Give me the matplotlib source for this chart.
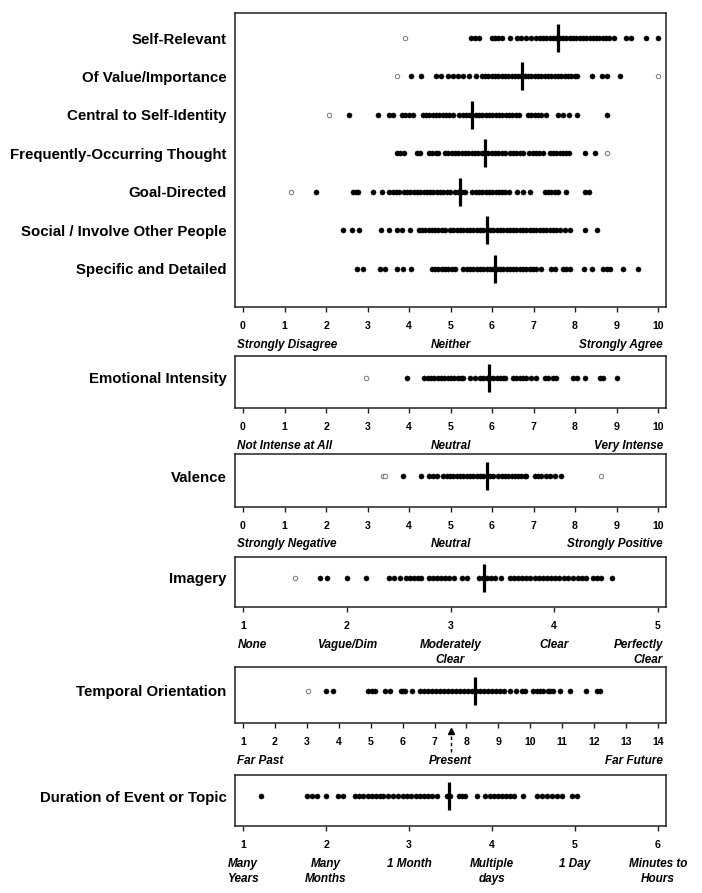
import matplotlib
matplotlib.use('Agg')
import matplotlib.pyplot as plt

plt.rcParams['font.family'] = ['Liberation Sans', 'DejaVu Sans']

# ---- data ----
# top panel: agreement ratings 0-10
top_labels = ["Self-Relevant", "Of Value/Importance", "Central to Self-Identity",
              "Frequently-Occurring Thought", "Goal-Directed",
              "Social / Involve Other People", "Specific and Detailed"]

self_rel = [5.50, 5.59, 5.68, 5.99, 6.07, 6.15, 6.23, 6.43, 6.61, 6.71, 6.83, 6.94, 7.07, 7.15,
            7.23, 7.31, 7.39, 7.47, 7.55, 7.63, 7.71, 7.79, 7.87, 7.95, 8.03, 8.11, 8.19, 8.27,
            8.35, 8.43, 8.51, 8.59, 8.67, 8.75, 8.81, 8.93, 9.22, 9.36, 9.70, 10.00]
value = [4.05, 4.30, 4.65, 4.77, 4.95, 5.07, 5.18, 5.31, 5.45, 5.61, 5.75, 5.83, 5.91, 5.99,
         6.07, 6.15, 6.23, 6.31, 6.39, 6.47, 6.55, 6.63, 6.71, 6.79, 6.87, 6.95, 7.03, 7.11,
         7.19, 7.27, 7.35, 7.43, 7.51, 7.59, 7.67, 7.75, 7.83, 7.91, 7.99, 8.04, 8.40, 8.66,
         8.76, 9.08]
central = [2.55, 3.25, 3.53, 3.62, 3.83, 3.91, 4.00, 4.10, 4.33, 4.41, 4.49, 4.57, 4.65, 4.73,
           4.81, 4.89, 4.97, 5.05, 5.21, 5.29, 5.37, 5.45, 5.53, 5.61, 5.69, 5.77, 5.85, 5.93,
           6.01, 6.09, 6.17, 6.25, 6.33, 6.41, 6.49, 6.57, 6.65, 6.87, 6.95, 7.03, 7.11, 7.19,
           7.29, 7.60, 7.70, 7.86, 8.06, 8.76]
frequent = [3.70, 3.79, 3.88, 4.19, 4.27, 4.48, 4.56, 4.64, 4.71, 4.87, 4.95, 5.03, 5.11, 5.19,
            5.27, 5.35, 5.43, 5.51, 5.59, 5.67, 5.75, 5.83, 5.91, 5.99, 6.07, 6.15, 6.23, 6.31,
            6.43, 6.51, 6.59, 6.67, 6.75, 6.90, 6.98, 7.06, 7.14, 7.23, 7.39, 7.47, 7.55, 7.63,
            7.71, 7.79, 7.86, 8.24, 8.48]
goal = [1.75, 2.66, 2.72, 2.78, 3.14, 3.36, 3.53, 3.61, 3.69, 3.77, 3.87, 3.95, 4.03, 4.11,
        4.19, 4.27, 4.35, 4.43, 4.51, 4.59, 4.67, 4.75, 4.83, 4.91, 4.99, 5.11, 5.19, 5.27,
        5.35, 5.53, 5.61, 5.69, 5.77, 5.85, 5.93, 6.01, 6.09, 6.17, 6.25, 6.31, 6.42, 6.61,
        6.74, 6.91, 7.27, 7.35, 7.43, 7.51, 7.59, 7.78, 8.24, 8.34]
social = [2.41, 2.62, 2.80, 3.33, 3.52, 3.70, 3.83, 4.03, 4.23, 4.31, 4.39, 4.47, 4.55, 4.63,
          4.71, 4.79, 4.87, 4.99, 5.07, 5.15, 5.23, 5.31, 5.39, 5.47, 5.55, 5.63, 5.71, 5.79,
          5.87, 5.95, 6.03, 6.11, 6.19, 6.27, 6.35, 6.43, 6.51, 6.59, 6.67, 6.75, 6.83, 6.91,
          6.99, 7.07, 7.15, 7.23, 7.31, 7.39, 7.47, 7.55, 7.63, 7.75, 7.89, 8.25, 8.52]
specific = [2.74, 2.89, 3.29, 3.42, 3.70, 3.85, 4.05, 4.55, 4.63, 4.71, 4.79, 4.87, 4.95, 5.03,
            5.11, 5.31, 5.39, 5.47, 5.55, 5.63, 5.71, 5.79, 5.87, 5.95, 6.03, 6.11, 6.19, 6.27,
            6.35, 6.43, 6.51, 6.59, 6.67, 6.75, 6.83, 6.91, 6.99, 7.07, 7.19, 7.43, 7.51, 7.71,
            7.79, 7.87, 8.21, 8.42, 8.68, 8.76, 8.84, 9.16, 9.52]
top_points = [self_rel, value, central, frequent, goal, social, specific]
top_outliers = [[3.90], [3.72, 10.00], [2.08], [8.76], [1.16], [], []]
top_means = [7.58, 6.72, 5.53, 5.82, 5.22, 5.89, 6.08]

emotional = [3.96, 4.37, 4.45, 4.53, 4.61, 4.69, 4.77, 4.85, 4.93, 5.01, 5.09, 5.17, 5.25, 5.31,
             5.47, 5.59, 5.71, 5.79, 5.87, 5.95, 6.03, 6.11, 6.19, 6.27, 6.31, 6.51, 6.59, 6.67,
             6.75, 6.83, 6.95, 7.07, 7.27, 7.35, 7.47, 7.55, 7.94, 8.04, 8.24, 8.60, 8.68, 9.00]
emotional_out = [2.97]
emotional_mean = 5.92

valence = [3.85, 4.28, 4.49, 4.58, 4.68, 4.83, 4.91, 4.99, 5.07, 5.15, 5.23, 5.31, 5.39, 5.47,
           5.55, 5.63, 5.71, 5.79, 5.87, 5.95, 6.03, 6.15, 6.23, 6.31, 6.39, 6.47, 6.55, 6.63,
           6.71, 6.79, 6.83, 7.03, 7.11, 7.19, 7.29, 7.39, 7.51, 7.67]
valence_out = [3.37, 3.42, 8.62]
valence_mean = 5.89

imagery = [1.74, 1.81, 2.00, 2.19, 2.41, 2.46, 2.51, 2.57, 2.61, 2.65, 2.69, 2.72, 2.79, 2.83,
           2.87, 2.91, 2.95, 2.99, 3.03, 3.11, 3.16, 3.27, 3.31, 3.35, 3.39, 3.43, 3.49, 3.57,
           3.61, 3.65, 3.69, 3.73, 3.77, 3.81, 3.85, 3.89, 3.93, 3.97, 4.01, 4.05, 4.09, 4.13,
           4.18, 4.23, 4.27, 4.31, 4.37, 4.41, 4.45, 4.56]
imagery_out = [1.50]
imagery_mean = 3.32

temporal = [3.60, 3.81, 4.92, 5.04, 5.15, 5.44, 5.61, 5.96, 6.02, 6.08, 6.29, 6.55, 6.68, 6.80,
            6.93, 7.05, 7.18, 7.30, 7.43, 7.55, 7.68, 7.80, 7.93, 8.05, 8.18, 8.30, 8.43, 8.55,
            8.68, 8.80, 8.93, 9.05, 9.18, 9.36, 9.54, 9.73, 9.83, 10.09, 10.20, 10.30, 10.40,
            10.55, 10.63, 10.72, 10.93, 11.24, 11.74, 12.10, 12.18]
temporal_out = [3.04]
temporal_mean = 8.27
present_x = 7.5

duration = [1.22, 1.77, 1.83, 1.89, 2.00, 2.14, 2.21, 2.35, 2.40, 2.45, 2.50, 2.55, 2.60, 2.65,
            2.69, 2.75, 2.81, 2.87, 2.93, 2.98, 3.03, 3.08, 3.13, 3.18, 3.23, 3.28, 3.34, 3.46,
            3.50, 3.60, 3.64, 3.68, 3.82, 3.92, 3.98, 4.02, 4.07, 4.12, 4.17, 4.22, 4.26, 4.37,
            4.54, 4.60, 4.66, 4.72, 4.78, 4.84, 4.96, 5.03]
duration_out = []
duration_mean = 3.48

# scale descriptors
agree_desc = ["Strongly Disagree", "Neither", "Strongly Agree"]
intensity_desc = ["Not Intense at All", "Neutral", "Very Intense"]
valence_desc = ["Strongly Negative", "Neutral", "Strongly Positive"]
imagery_desc = ["None", "Vague/Dim", "Moderately\nClear", "Clear", "Perfectly\nClear"]
temporal_desc = ["Far Past", "Present", "Far Future"]
duration_desc = ["Many\nYears", "Many\nMonths", "1 Month", "Multiple\ndays", "1 Day",
                 "Minutes to\nHours"]

# ---- layout (pixels) ----
W, H = 702, 893
BOX_L, BOX_R = 235, 666
fig = plt.figure(figsize=(W / 100, H / 100), dpi=100)


def panel(top, bottom, lo, hi):
    ax = fig.add_axes([BOX_L / W, 1 - bottom / H, (BOX_R - BOX_L) / W, (bottom - top) / H])
    pad = (hi - lo) * 8 / 415
    ax.set_xlim(lo - pad, hi + pad)
    ticks = list(range(lo, hi + 1))
    ax.set_xticks(ticks, labels=[str(t) for t in ticks], fontsize=7.6, fontweight='bold')
    ax.tick_params(axis='x', direction='out', length=3.5, width=1, pad=6.5, color='#222222')
    ax.tick_params(axis='y', length=0, pad=6)
    for s in ax.spines.values():
        s.set_linewidth(1.1)
        s.set_color('#222222')
    return ax


def strip(ax, y, pts, outs, mean):
    ax.plot(pts, [y] * len(pts), 'o', ms=3.7, color='black', mec='black', mew=0.3)
    if outs:
        ax.plot(outs, [y] * len(outs), 'o', ms=3.2, mfc='white', mec='#777777', mew=0.7)
    ax.plot([mean], [y], '|', ms=20, mew=2.3, color='black')


def describe(ax, texts, xs, has, dy=23):
    tr = ax.get_xaxis_transform()
    for t, x, ha in zip(texts, xs, has):
        dx = {'left': -4, 'right': 3.5, 'center': 0}[ha]
        ax.annotate(t, xy=(x, 0), xycoords=tr, xytext=(dx, -dy), textcoords='offset points',
                    ha=ha, va='top', fontsize=8.5, fontweight='bold', fontstyle='italic',
                    multialignment=ha, linespacing=1.3, annotation_clip=False)


label_kw = dict(fontsize=10.8, fontweight='bold')

# top panel
ax = panel(13, 307, 0, 10)
ax.set_ylim(0.01, 7.65)
rows = list(range(7, 0, -1))
for y, pts, outs, m in zip(rows, top_points, top_outliers, top_means):
    strip(ax, y, pts, outs, m)
ax.set_yticks(rows, labels=top_labels, **label_kw)
describe(ax, agree_desc, [0, 5, 10], ['left', 'center', 'right'])

# single-item panels
ROW = 0.58
singles = [
    ("Emotional Intensity", 356, 408, 0, 10, emotional, emotional_out, emotional_mean),
    ("Valence", 454, 507, 0, 10, valence, valence_out, valence_mean),
    ("Imagery", 557, 607, 1, 5, imagery, imagery_out, imagery_mean),
    ("Temporal Orientation", 667, 723, 1, 14, temporal, temporal_out, temporal_mean),
    ("Duration of Event or Topic", 775, 826, 1, 6, duration, duration_out, duration_mean),
]
axes = []
for name, top, bottom, lo, hi, pts, outs, m in singles:
    ax = panel(top, bottom, lo, hi)
    ax.set_ylim(0, 1)
    strip(ax, ROW, pts, outs, m)
    ax.set_yticks([ROW], labels=[name], **label_kw)
    axes.append(ax)

ax_emo, ax_val, ax_img, ax_tmp, ax_dur = axes
describe(ax_emo, intensity_desc, [0, 5, 10], ['left', 'center', 'right'])
describe(ax_val, valence_desc, [0, 5, 10], ['left', 'center', 'right'], dy=22)
describe(ax_img, imagery_desc, [1, 2, 3, 4, 5], ['left', 'center', 'center', 'center', 'right'])
describe(ax_tmp, temporal_desc, [1, present_x, 14], ['left', 'center', 'right'])
describe(ax_dur, duration_desc, [1, 2, 3, 4, 5, 6], ['center'] * 6)

# "present" marker: dashed arrow between tick labels
tr = ax_tmp.get_xaxis_transform()
ax_tmp.plot([present_x, present_x], [-0.52, -0.16], transform=tr, color='black', lw=1.0,
            ls=(0, (2.5, 2)), clip_on=False)
ax_tmp.plot([present_x], [-0.14], transform=tr, marker='^', ms=4, color='black', clip_on=False)

fig.savefig('out.png', dpi=100)
